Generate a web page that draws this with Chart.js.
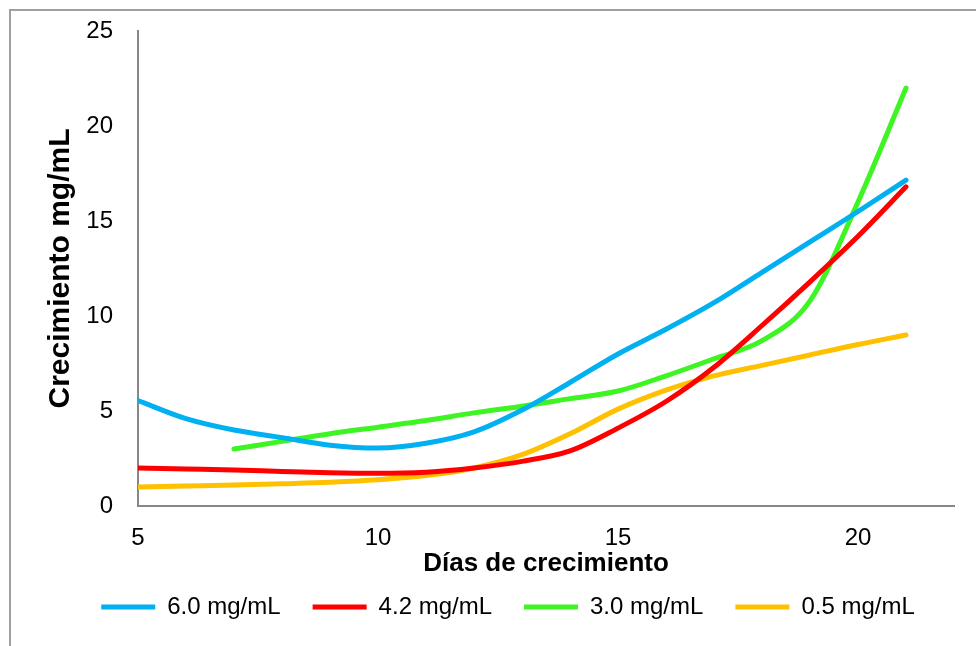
<!DOCTYPE html>
<html>
<head>
<meta charset="utf-8">
<script src="https://cdn.jsdelivr.net/npm/chart.js@4/dist/chart.umd.min.js"></script>
<style>
  html, body { margin: 0; padding: 0; background: #fff; }
</style>
</head>
<body>
<canvas id="line-chart" width="976" height="646"></canvas>
<script>
// días de crecimiento
var days = [5, 6, 7, 8, 9, 10, 11, 12, 13, 14, 15, 16, 17, 18, 19, 20, 21];

var conc60 = [5.55, 4.6, 4.0, 3.6, 3.2, 3.05, 3.3, 3.9, 5.05, 6.5, 8.0, 9.3, 10.7, 12.3, 13.9, 15.5, 17.15];
var conc42 = [2.0, 1.95, 1.9, 1.82, 1.75, 1.72, 1.78, 2.0, 2.35, 2.9, 4.1, 5.5, 7.3, 9.5, 11.8, 14.2, 16.8];
var conc30 = [null, null, 3.0, 3.4, 3.8, 4.15, 4.5, 4.9, 5.25, 5.65, 6.05, 6.85, 7.75, 8.7, 10.8, 16.0, 22.0];
var conc05 = [1.0, 1.05, 1.1, 1.17, 1.25, 1.38, 1.6, 2.0, 2.7, 3.8, 5.1, 6.1, 6.85, 7.4, 7.95, 8.5, 9.0];

var seriesNames = ["6.0 mg/mL", "4.2 mg/mL", "3.0 mg/mL", "0.5 mg/mL"];
var seriesColors = ["#00B0F0", "#FF0000", "#3EF523", "#FFC000"];

function pts(vals) {
  return days.map(function (d, i) { return { x: d, y: vals[i] }; });
}

var font = "'Liberation Sans', Arial, sans-serif";

// gray frame round the whole chart
var frame = {
  id: 'frame',
  beforeDraw: function (chart) {
    var ctx = chart.ctx;
    ctx.save();
    ctx.fillStyle = '#fff';
    ctx.fillRect(0, 0, chart.width, chart.height);
    ctx.strokeStyle = '#a0a0a0';
    ctx.lineWidth = 2;
    ctx.strokeRect(10, 10, 1000, 700);
    ctx.restore();
  }
};

// legend padding is big to space the items, pull the row up a bit
var legendNudge = {
  id: 'legendNudge',
  afterLayout: function (chart) {
    var lg = chart.legend;
    lg.top -= 22;
    lg.height += 22;
    lg.left += 11;
    lg.right += 11;
  }
};

var data = [conc60, conc42, conc30, conc05];

new Chart(document.getElementById("line-chart"), {
  type: 'line',
  data: {
    datasets: data.map(function (vals, i) {
      return {
        label: seriesNames[i],
        data: pts(vals),
        borderColor: seriesColors[i],
        backgroundColor: seriesColors[i],
        borderWidth: 5,
        borderCapStyle: 'round',
        pointRadius: 0,
        cubicInterpolationMode: 'monotone',
        fill: false
      };
    })
  },
  options: {
    responsive: false,
    animation: false,
    layout: { padding: { left: 40, top: 31, right: 22, bottom: 1 } },
    plugins: {
      legend: {
        position: 'bottom',
        maxHeight: 60,
        labels: {
          boxWidth: 54,
          boxHeight: 0,
          padding: 32,
          color: '#000',
          font: { family: font, size: 24 }
        }
      },
      tooltip: { enabled: false }
    },
    scales: {
      x: {
        type: 'linear',
        min: 5,
        max: 22,
        grid: { display: false, drawTicks: false },
        border: { color: '#878787', width: 2 },
        ticks: { stepSize: 5, includeBounds: false, padding: 18, color: '#000', font: { family: font, size: 24 } },
        title: {
          display: true,
          text: 'Días de crecimiento',
          color: '#000',
          padding: { top: 2, bottom: 6 },
          font: { family: font, size: 26, weight: 'bold' }
        },
        afterFit: function (scale) { scale.height = 79; }
      },
      y: {
        min: 0,
        max: 25,
        grid: { display: false, drawTicks: false },
        border: { color: '#878787', width: 2 },
        ticks: { stepSize: 5, padding: 25, color: '#000', font: { family: font, size: 24 } },
        title: {
          display: true,
          text: 'Crecimiento mg/mL',
          color: '#000',
          padding: { top: 3, bottom: 0 },
          font: { family: font, size: 30, weight: 'bold' }
        },
        afterFit: function (scale) {
          scale.width = 98;
          scale.paddingTop = 0;
          scale.paddingBottom = 0;
        }
      }
    }
  },
  plugins: [frame, legendNudge]
});
</script>
</body>
</html>
